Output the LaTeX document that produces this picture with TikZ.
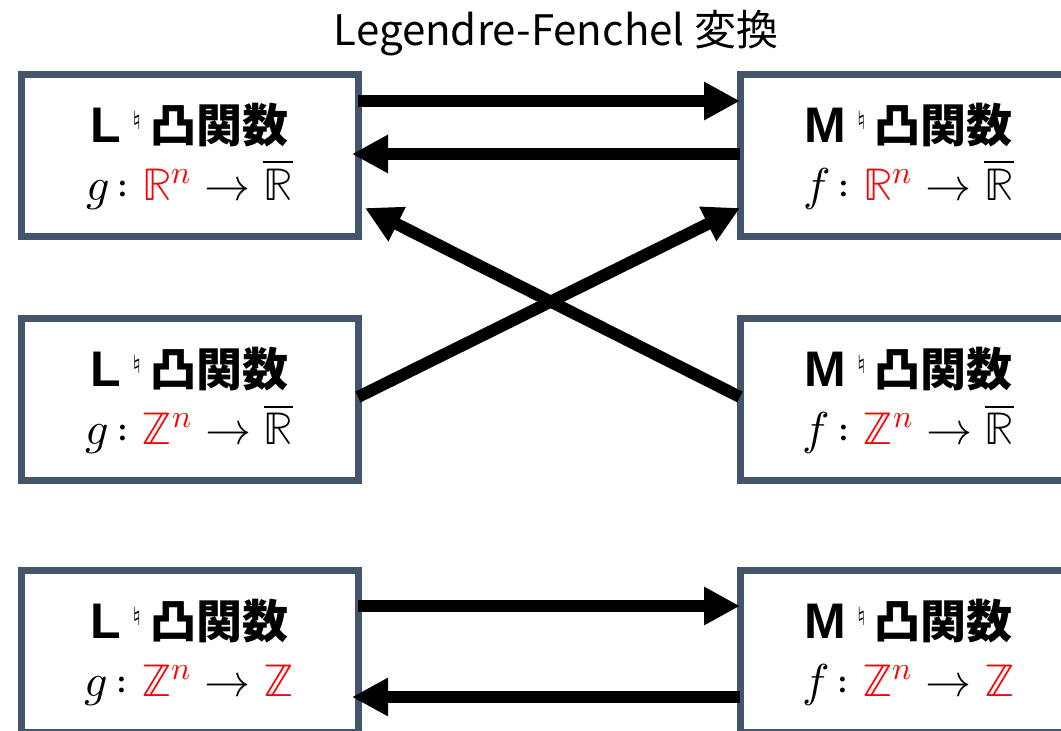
\documentclass[tikz,border=0pt]{standalone}
\usepackage{fontspec}
\usepackage{unicode-math}
\setmathfont{latinmodern-math.otf}
\setsansfont{Liberation Sans}
\usetikzlibrary{arrows.meta}
\newfontfamily\cjkreg{Noto Sans CJK JP}
\newfontfamily\cjkbold{Noto Sans CJK JP Bold}
\newfontfamily\djvsans{DejaVu Sans}
\definecolor{boxc}{HTML}{44546A}
\newcommand\hdr[1]{{\fontsize{50}{56}\selectfont\sffamily\bfseries #1\hspace{11pt}\raisebox{13pt}{\fontsize{25}{25}\selectfont\djvsans ♮}\hspace{9pt}{\fontsize{46}{52}\selectfont\cjkbold 凸関数}}}
\newcommand\fmap[1]{{\fontsize{46}{52}\selectfont $#1$}}
\tikzset{
  cbox/.style={draw=boxc, line width=7pt, fill=white, minimum width=337pt, minimum height=162pt, inner sep=0pt, outer sep=0pt},
  arr/.style={line width=12pt, -{Triangle[length=36pt,width=36pt]}},
  lbl/.style={anchor=base, inner sep=0pt}
}
\begin{document}
\begin{tikzpicture}[x=1pt,y=-1pt]
\useasboundingbox (0,0) rectangle (1061,731);
\node[cbox] (LR) at (189.5,155) {};
\node[cbox] (MR) at (908.5,155) {};
\node[cbox] (LZ) at (189.5,399.5) {};
\node[cbox] (MZ) at (908.5,399.5) {};
\node[cbox] (LZZ) at (189.5,651) {};
\node[cbox] (MZZ) at (908.5,651) {};
\node[anchor=base, inner sep=0pt] (title) at (556,45) {\fontsize{42}{48}\selectfont\cjkreg Legendre-Fenchel 変換};
% labels
\node[lbl] (LRh) at ([yshift=13pt]LR.center) {\hdr{L}};
\node[lbl] (LRm) at ([yshift=-45pt]LR.center) {\fmap{g\,{:}\;\textcolor{red}{\mathbb{R}^n}\to\overline{\mathbb{R}}}};
\node[lbl] (MRh) at ([yshift=13pt]MR.center) {\hdr{M}};
\node[lbl] (MRm) at ([yshift=-45pt]MR.center) {\fmap{f\,{:}\;\textcolor{red}{\mathbb{R}^n}\to\overline{\mathbb{R}}}};
\node[lbl] (LZh) at ([yshift=13pt]LZ.center) {\hdr{L}};
\node[lbl] (LZm) at ([yshift=-45pt]LZ.center) {\fmap{g\,{:}\;\textcolor{red}{\mathbb{Z}^n}\to\overline{\mathbb{R}}}};
\node[lbl] (MZh) at ([yshift=13pt]MZ.center) {\hdr{M}};
\node[lbl] (MZm) at ([yshift=-45pt]MZ.center) {\fmap{f\,{:}\;\textcolor{red}{\mathbb{Z}^n}\to\overline{\mathbb{R}}}};
\node[lbl] (LZZh) at ([yshift=13pt]LZZ.center) {\hdr{L}};
\node[lbl] (LZZm) at ([yshift=-45pt]LZZ.center) {\fmap{g\,{:}\;\textcolor{red}{\mathbb{Z}^n}\to\textcolor{red}{\mathbb{Z}}}};
\node[lbl] (MZZh) at ([yshift=13pt]MZZ.center) {\hdr{M}};
\node[lbl] (MZZm) at ([yshift=-45pt]MZZ.center) {\fmap{f\,{:}\;\textcolor{red}{\mathbb{Z}^n}\to\textcolor{red}{\mathbb{Z}}}};
% arrows
\draw[arr] (LR.east |- 0,101) -- (MR.west |- 0,101);
\draw[arr] (MR.west |- 0,154) -- ([xshift=-6pt]LR.east |- 0,154);
\draw[arr] (LZ.east |- 0,397) -- (MR.west |- 0,208);
\draw[arr] (MZ.west |- 0,397) -- ([xshift=7pt]LR.east |- 0,208);
\draw[arr] (LZZ.east |- 0,606) -- (MZZ.west |- 0,606);
\draw[arr] (MZZ.west |- 0,697) -- ([xshift=-6pt]LZZ.east |- 0,697);
\end{tikzpicture}
\end{document}
